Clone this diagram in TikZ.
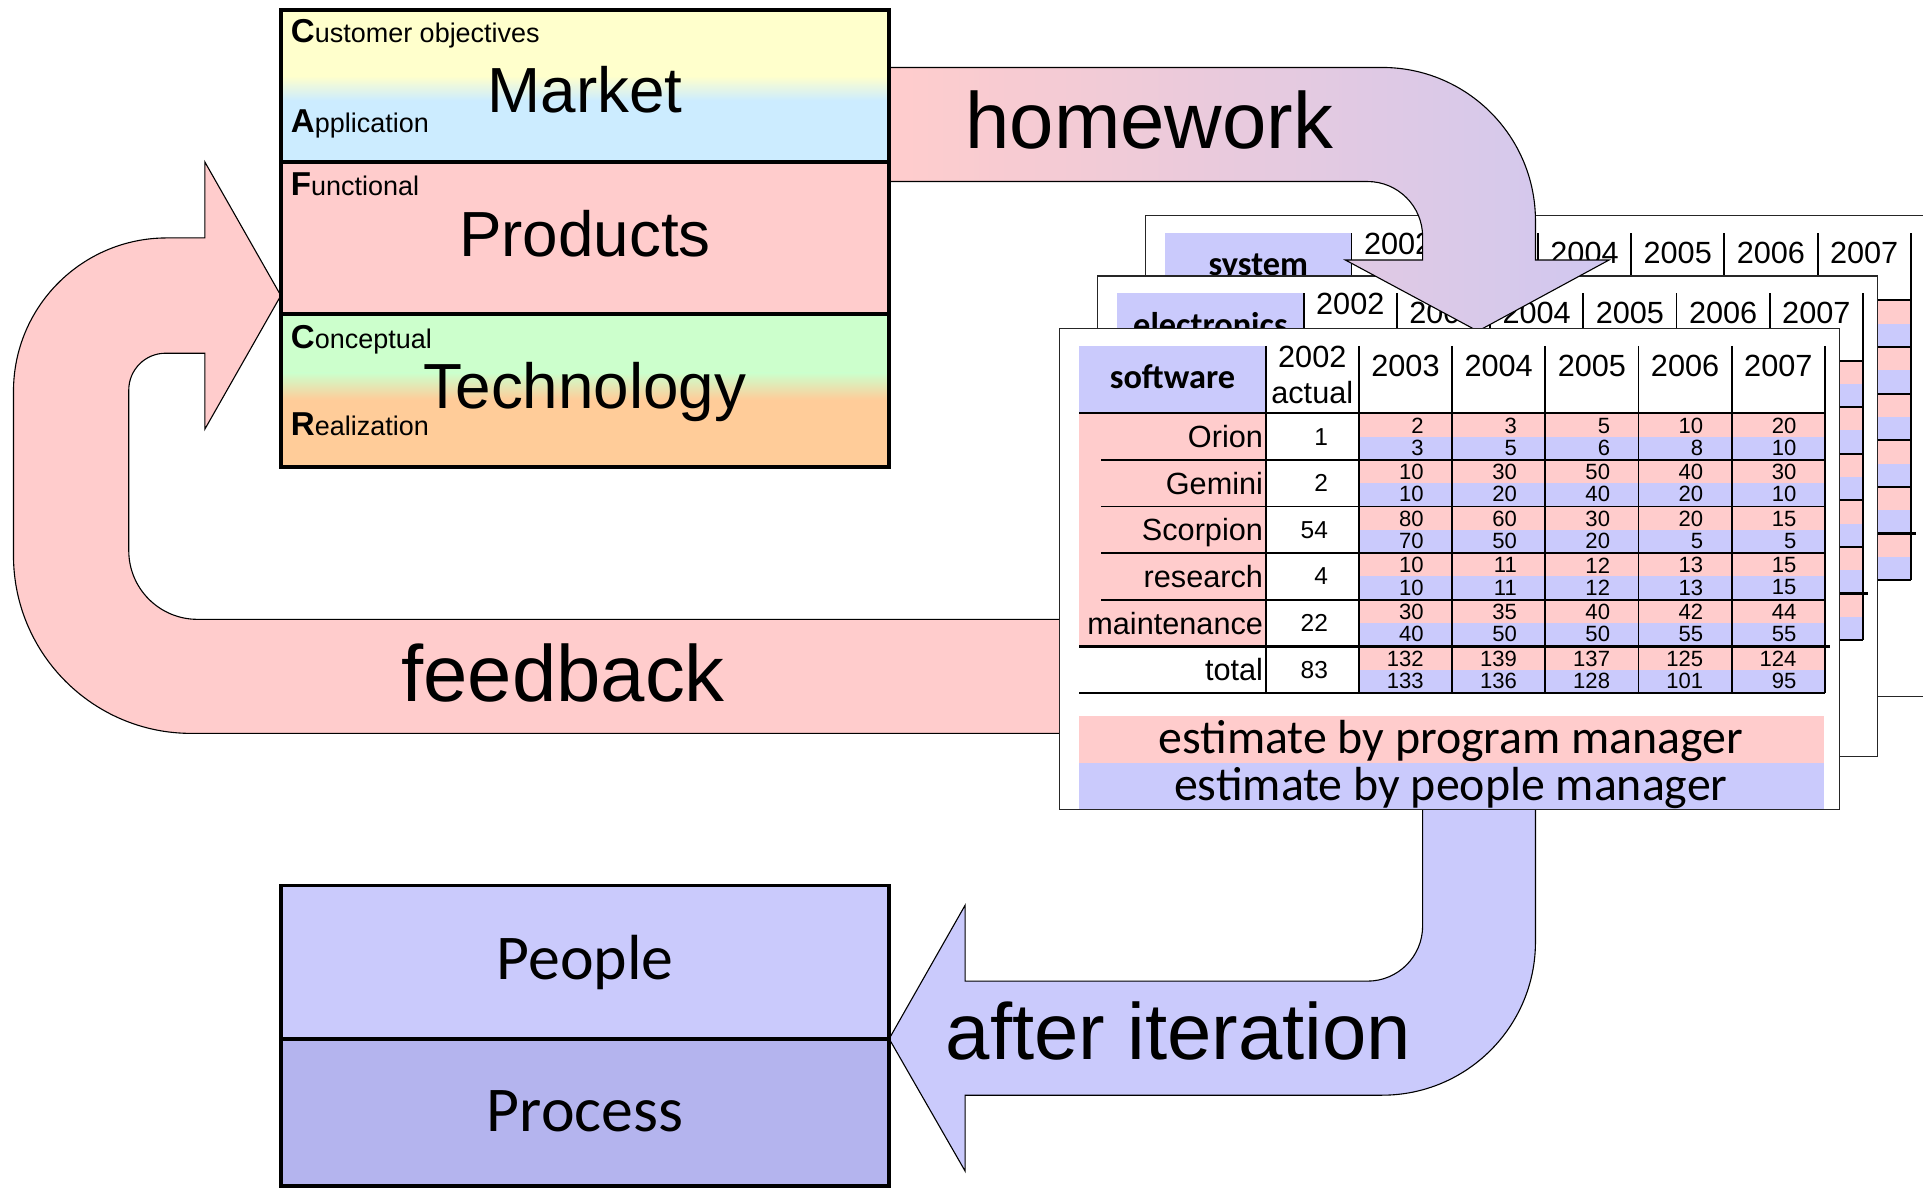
\documentclass[tikz,border=0pt]{standalone}
\usepackage{fontspec}
\setmainfont{Liberation Sans}
\newfontfamily\calibri{Carlito}

\definecolor{pinkfill}{RGB}{255,204,204}
\definecolor{lavfill}{RGB}{202,202,252}
\definecolor{procfill}{RGB}{180,180,238}
\definecolor{marketyellow}{RGB}{255,255,204}
\definecolor{marketblue}{RGB}{204,236,255}
\definecolor{techgreen}{RGB}{204,255,204}
\definecolor{techorange}{RGB}{255,204,153}
\definecolor{homeworkend}{RGB}{208,200,240}

\newcommand\capletter[1]{{\bfseries\fontsize{27}{28}\selectfont #1}}

% one estimate sheet: origin x, origin y, name, title
\newcommand\estimatepage[4]{%
  \begin{scope}[shift={(#1,#2)}]
    \draw[pageframe] (0,0) rectangle (636,392);
    \fill[lavfill] (16,14) rectangle (168,69);
    \node[pagetitle] (#3-title) at (92,49) {#4};
    \foreach \r in {0,...,5} {
      \fill[pinkfill] (244,69+38*\r) rectangle (624,88+38*\r);
      \fill[lavfill] (244,88+38*\r) rectangle (624,107+38*\r);
    }
    \fill[pinkfill] (16,69) rectangle (168,259);
    \draw[rowline] (16,69) -- (624,69);
    \foreach \r in {1,...,4}
      \draw[rowline] (34,69+38*\r) -- (624,69+38*\r);
    \draw[thickrule] (16,259) -- (628,259);
    \draw[rowline] (16,297) -- (624,297);
    \foreach \c in {0,...,6}
      \draw[colline] (168+76*\c,14) -- (168+76*\c,297);
    \node[yeartext] (#3-2002) at (206,23) {2002};
    \foreach \y [count=\c] in {2003,...,2007}
      \node[yeartext] (#3-\y) at (206+76*\c,30) {\y};
  \end{scope}}

\begin{document}
\begin{tikzpicture}[x=1pt, y=-1pt,
    boxline/.style={line width=3pt},
    arrowshape/.style={draw=black, line width=0.9pt},
    pageframe/.style={draw=black!85, line width=1pt, fill=white},
    rowline/.style={line width=1.6pt},
    thickrule/.style={line width=2.6pt},
    colline/.style={line width=1.6pt},
    bigword/.style={font=\fontsize{52}{58}\selectfont, anchor=base, inner sep=0pt},
    arrowword/.style={font=\fontsize{65}{72}\selectfont, anchor=base west, inner sep=0pt},
    sideword/.style={font=\fontsize{22}{24}\selectfont, anchor=base west, inner sep=0pt},
    pplword/.style={font=\calibri\fontsize{52}{58}\selectfont, anchor=base, inner sep=0pt},
    pagetitle/.style={font=\calibri\bfseries\fontsize{28}{30}\selectfont, anchor=base, inner sep=0pt},
    yeartext/.style={font=\fontsize{25}{27}\selectfont, inner sep=0pt},
    rowlabel/.style={font=\fontsize{25}{27}\selectfont, anchor=base east, inner sep=0pt},
    actualtext/.style={font=\fontsize{20}{22}\selectfont, anchor=east, inner sep=0pt},
    numtext/.style={font=\fontsize{18}{19}\selectfont, anchor=east, inner sep=0pt},
    legendtext/.style={font=\calibri\fontsize{39}{42}\selectfont, anchor=base, inner sep=0pt}]
  \useasboundingbox (0,0) rectangle (1568,970);

  % feedback loop
  \draw[arrowshape, fill=pinkfill] (900,505) [rounded corners=56pt] -- (105,505)
    [rounded corners=30pt] -- (105,288) [sharp corners] -- (167,288) -- (167,350)
    -- (229,241) -- (167,132) -- (167,194) [rounded corners=125pt] -- (11,194)
    [rounded corners=145pt] -- (11,598) [sharp corners] -- (900,598) -- cycle;
  \node[arrowword] (feedback) at (327,572) {feedback};

  % after iteration
  \draw[arrowshape, fill=lavfill] (1160,640) [rounded corners=45pt] -- (1160,800)
    [sharp corners] -- (787,800) -- (787,738) -- (725,847) -- (787,955) -- (787,893)
    [rounded corners=125pt] -- (1252,893) [sharp corners] -- (1252,640) -- cycle;
  \node[arrowword] (iteration) at (771,864) {after iteration};

  \estimatepage{934}{176}{sys}{system}
  \estimatepage{895}{225}{elec}{electronics}

  % homework
  \draw[arrowshape, left color=pinkfill, right color=homeworkend] (725,55)
    [rounded corners=125pt] -- (1252,55) [sharp corners] -- (1252,212) -- (1312,212)
    -- (1205,270) -- (1097,212) -- (1160,212) [rounded corners=45pt] -- (1160,148)
    [sharp corners] -- (725,148) -- cycle;
  \node[arrowword] (homework) at (787,121) {homework};

  \estimatepage{864}{268}{soft}{software}
  \begin{scope}[shift={(864,268)}]
    \node[yeartext, anchor=base] (actual) at (206,61) {actual};
    \foreach \lab/\act/\prog/\peop [count=\r from 0] in {
        Orion/1/{2,3,5,10,20}/{3,5,6,8,10},
        Gemini/2/{10,30,50,40,30}/{10,20,40,20,10},
        Scorpion/54/{80,60,30,20,15}/{70,50,20,5,5},
        research/4/{10,11,12,13,15}/{10,11,12,13,15},
        maintenance/22/{30,35,40,42,44}/{40,50,50,55,55},
        total/83/{132,139,137,125,124}/{133,136,128,101,95}} {
      \node[rowlabel] (row\r) at (166,97+38*\r) {\lab};
      \node[actualtext] (act\r) at (219,88+38*\r) {\act};
      \foreach \v [count=\c from 0] in \prog
        \node[numtext] (pm\r-\c) at (297+76*\c,79+38*\r) {\v};
      \foreach \v [count=\c from 0] in \peop
        \node[numtext] (pp\r-\c) at (297+76*\c,97+38*\r) {\v};
    }
    \fill[pinkfill] (16,316) rectangle (623,354);
    \fill[lavfill] (16,354) rectangle (623,392);
    \node[legendtext] (progest) at (319,346) {estimate by program manager};
    \node[legendtext] (peopest) at (319,385) {estimate by people manager};
  \end{scope}

  % CAFCR stack
  \fill[marketyellow] (229,8) rectangle (725,62);
  \shade[top color=marketyellow, bottom color=marketblue] (229,62) rectangle (725,82);
  \fill[marketblue] (229,82) rectangle (725,132);
  \fill[pinkfill] (229,132) rectangle (725,256);
  \fill[techgreen] (229,256) rectangle (725,304);
  \shade[top color=techgreen, bottom color=techorange] (229,304) rectangle (725,326);
  \fill[techorange] (229,326) rectangle (725,381);
  \draw[boxline] (229,8) rectangle (725,381) (229,132) -- (725,132) (229,256) -- (725,256);
  \node[sideword] (customer) at (237,35) {\capletter{C}ustomer objectives};
  \node[sideword] (application) at (237,108) {\capletter{A}pplication};
  \node[sideword] (functional) at (237,159) {\capletter{F}unctional};
  \node[sideword] (conceptual) at (237,284) {\capletter{C}onceptual};
  \node[sideword] (realization) at (237,355) {\capletter{R}ealization};
  \node[bigword] (market) at (477,92) {Market};
  \node[bigword] (products) at (477,209) {Products};
  \node[bigword] (technology) at (477,333) {Technology};

  % people and process
  \fill[lavfill] (229,722) rectangle (725,847);
  \fill[procfill] (229,847) rectangle (725,967);
  \draw[boxline] (229,722) rectangle (725,967) (229,847) -- (725,847);
  \node[pplword] (people) at (477,799) {People};
  \node[pplword] (process) at (477,923) {Process};
\end{tikzpicture}
\end{document}
